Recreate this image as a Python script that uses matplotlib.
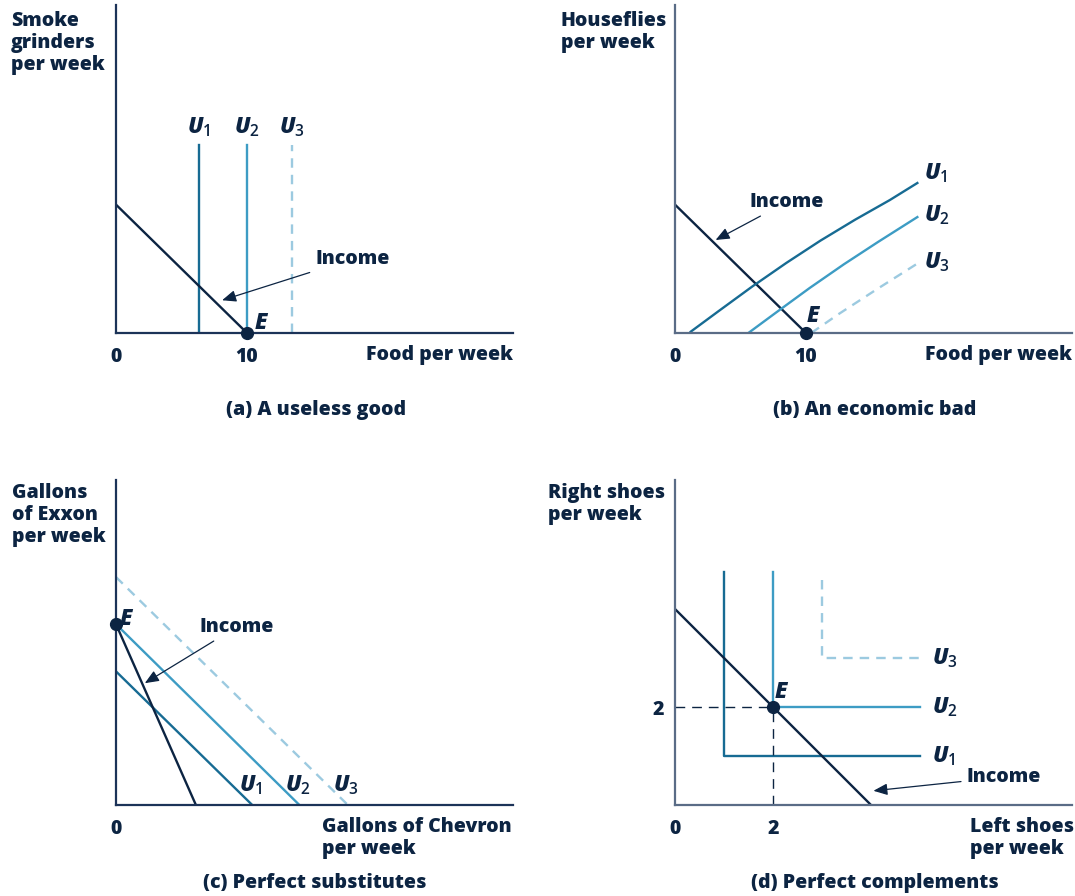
import matplotlib
matplotlib.use('Agg')
import matplotlib.pyplot as plt

plt.rcParams['font.family'] = ['Open Sans', 'DejaVu Sans']
plt.rcParams['font.weight'] = 800
plt.rcParams['mathtext.fontset'] = 'custom'
plt.rcParams['mathtext.it'] = 'Open Sans:italic:extrabold'
plt.rcParams['mathtext.rm'] = 'Open Sans:semibold'

NAVY = '#0c2442'
U1C = '#176b93'
U2C = '#3d9cc4'
U3C = '#9ccae0'
AX_DARK = '#1c3358'
AX_GRAY = '#5a6c86'
FS = 14
UFS = 16

# ---- data ----
# (a) a useless good
a_income_x = [0, 10]
a_income_y = [9.8, 0]
a_u_x = [6.3, 10, 13.4]
a_u_top = 14.35

# (b) an economic bad
b_income_x = [0, 10]
b_income_y = [9.8, 0]
b_u1_x = [1.2, 3.3, 5.9, 8.5, 11.1, 13.75, 16.4, 18.5]
b_u1_y = [0.1, 1.65, 3.55, 5.35, 7.05, 8.65, 10.15, 11.45]
b_u2_x = [5.6, 7.7, 10.3, 12.9, 15.5, 18.5]
b_u2_y = [0.0, 1.55, 3.45, 5.25, 6.95, 8.85]
b_u3_x = [10.4, 12.5, 15.5, 18.5]
b_u3_y = [0.0, 1.45, 3.4, 5.3]

# (c) perfect substitutes
c_income_x = [0, 6.1]
c_income_y = [13.8, 0]
c_u1 = (10.2, 10.4)   # (y intercept, x intercept)
c_u2 = (13.8, 14.0)
c_u3 = (17.4, 17.7)

# (d) perfect complements
d_income_x = [0, 4]
d_income_y = [4, 0]
d_corners = [(1, 1), (2, 2), (3, 3)]
d_top = [4.75, 4.75, 4.6]
d_right = 5.0

W, H = 1075, 896
fig = plt.figure(figsize=(W / 100, H / 100), dpi=100)


def fx(px):
    return px / W


def fy(py):
    return 1 - py / H


def panel(x0, y0, x1, y1, scale, spine_color):
    ax = fig.add_axes([fx(x0), fy(y1), (x1 - x0) / W, (y1 - y0) / H])
    ax.set_xlim(0, (x1 - x0) / scale)
    ax.set_ylim(0, (y1 - y0) / scale)
    ax.patch.set_alpha(0)
    for s in ['top', 'right']:
        ax.spines[s].set_visible(False)
    for s in ['left', 'bottom']:
        ax.spines[s].set_color(spine_color)
        ax.spines[s].set_linewidth(1.6)
    ax.set_xticks([])
    ax.set_yticks([])
    ax.tick_params(length=0, labelsize=FS, labelcolor=NAVY, pad=10)
    return ax


def ticks(ax, xt=None, yt=None):
    if xt:
        ax.set_xticks(xt)
        ax.set_xticklabels([str(v) for v in xt], fontweight=800)
    if yt:
        ax.set_yticks(yt)
        ax.set_yticklabels([str(v) for v in yt], fontweight=800)


def point_e(ax, x, y):
    ax.plot([x], [y], 'o', color=NAVY, ms=8.5, clip_on=False, zorder=5)


def ulabel(ax, x, y, n, **kw):
    ax.text(x, y, '$U_{%d}$' % n, color=NAVY, fontsize=UFS, va='center', **kw)


def income(ax, xy, xytext):
    ax.annotate('Income', xy=xy, xytext=xytext, color=NAVY, fontsize=FS,
                fontweight=800, va='center', ha='left',
                arrowprops=dict(arrowstyle='-|>,head_length=0.6,head_width=0.25',
                                color=NAVY, lw=0.9, shrinkA=2, shrinkB=0))


def ftext(x, y, s, **kw):
    fig.text(fx(x), fy(y), s, color=NAVY, fontsize=FS, va='center',
             fontweight=800, linespacing=1.15, **kw)


LW = 1.7
dash = (0, (4, 3))
cols = [U1C, U2C, U3C]

# ---------- (a) ----------
ax = panel(116, 5, 513, 333, 13.1, AX_DARK)
ticks(ax, xt=[0, 10])
for i, (x, c) in enumerate(zip(a_u_x, cols)):
    ax.plot([x, x], [0, a_u_top], color=c, lw=LW, ls=dash if i == 2 else '-')
    ulabel(ax, x, a_u_top + 1.4, i + 1, ha='center')
ax.plot(a_income_x, a_income_y, color=NAVY, lw=LW)
point_e(ax, 10, 0)
ax.text(10.5, 0.8, '$E$', color=NAVY, fontsize=UFS, va='center')
income(ax, (8.1, 2.5), (15.2, 5.65))
ftext(513, 355, 'Food per week', ha='right')
ftext(11, 43, 'Smoke\ngrinders\nper week', ha='left')
ftext(316, 410, '(a) A useless good', ha='center')

# ---------- (b) ----------
ax = panel(675, 5, 1072, 333, 13.1, AX_GRAY)
ticks(ax, xt=[0, 10])
ax.plot(b_income_x, b_income_y, color=NAVY, lw=LW)
ax.plot(b_u1_x, b_u1_y, color=U1C, lw=LW)
ax.plot(b_u2_x, b_u2_y, color=U2C, lw=LW)
ax.plot(b_u3_x, b_u3_y, color=U3C, lw=LW, ls=dash)
for y, n in zip([12.2, 9.0, 5.4], [1, 2, 3]):
    ulabel(ax, 19.0, y, n)
point_e(ax, 10, 0)
ax.text(10.0, 1.3, '$E$', color=NAVY, fontsize=UFS, va='center')
income(ax, (3.1, 7.1), (5.7, 10.0))
ftext(1072, 355, 'Food per week', ha='right')
ftext(561, 32, 'Houseflies\nper week', ha='left')
ftext(875, 410, '(b) An economic bad', ha='center')

# ---------- (c) ----------
ax = panel(116, 480, 513, 805, 13.1, AX_DARK)
ticks(ax, xt=[0])
for i, ((yi, xi), c) in enumerate(zip([c_u1, c_u2, c_u3], cols)):
    ax.plot([0, xi], [yi, 0], color=c, lw=LW, ls=dash if i == 2 else '-')
ax.plot(c_income_x, c_income_y, color=NAVY, lw=LW)
for x, n in zip([9.4, 12.9, 16.6], [1, 2, 3]):
    ulabel(ax, x, 1.5, n)
point_e(ax, 0, 13.8)
ax.text(0.2, 14.2, '$E$', color=NAVY, fontsize=UFS, va='center')
income(ax, (2.2, 9.3), (6.4, 13.6))
ftext(322, 838, 'Gallons of Chevron\nper week', ha='left')
ftext(12, 515, 'Gallons\nof Exxon\nper week', ha='left')
ftext(315, 883, '(c) Perfect substitutes', ha='center')

# ---------- (d) ----------
ax = panel(675, 480, 1072, 805, 49, AX_GRAY)
ticks(ax, xt=[0, 2], yt=[2])
ax.tick_params(axis='y', pad=8)
for i, ((cx, cy), top, c) in enumerate(zip(d_corners, d_top, cols)):
    ax.plot([cx, cx, d_right], [top, cy, cy], color=c, lw=LW, ls=dash if i == 2 else '-')
    ulabel(ax, d_right + 0.25, cy, i + 1)
ax.plot([0, 2], [2, 2], color=NAVY, lw=1.0, ls=(0, (7, 5)))
ax.plot([2, 2], [0, 2], color=NAVY, lw=1.0, ls=(0, (7, 5)))
ax.plot(d_income_x, d_income_y, color=NAVY, lw=LW)
point_e(ax, 2, 2)
ax.text(2.03, 2.3, '$E$', color=NAVY, fontsize=UFS, va='center')
income(ax, (4.05, 0.29), (5.95, 0.57))
ftext(970, 838, 'Left shoes\nper week', ha='left')
ftext(548, 504, 'Right shoes\nper week', ha='left')
ftext(875, 883, '(d) Perfect complements', ha='center')

fig.savefig('out.png', dpi=100)
